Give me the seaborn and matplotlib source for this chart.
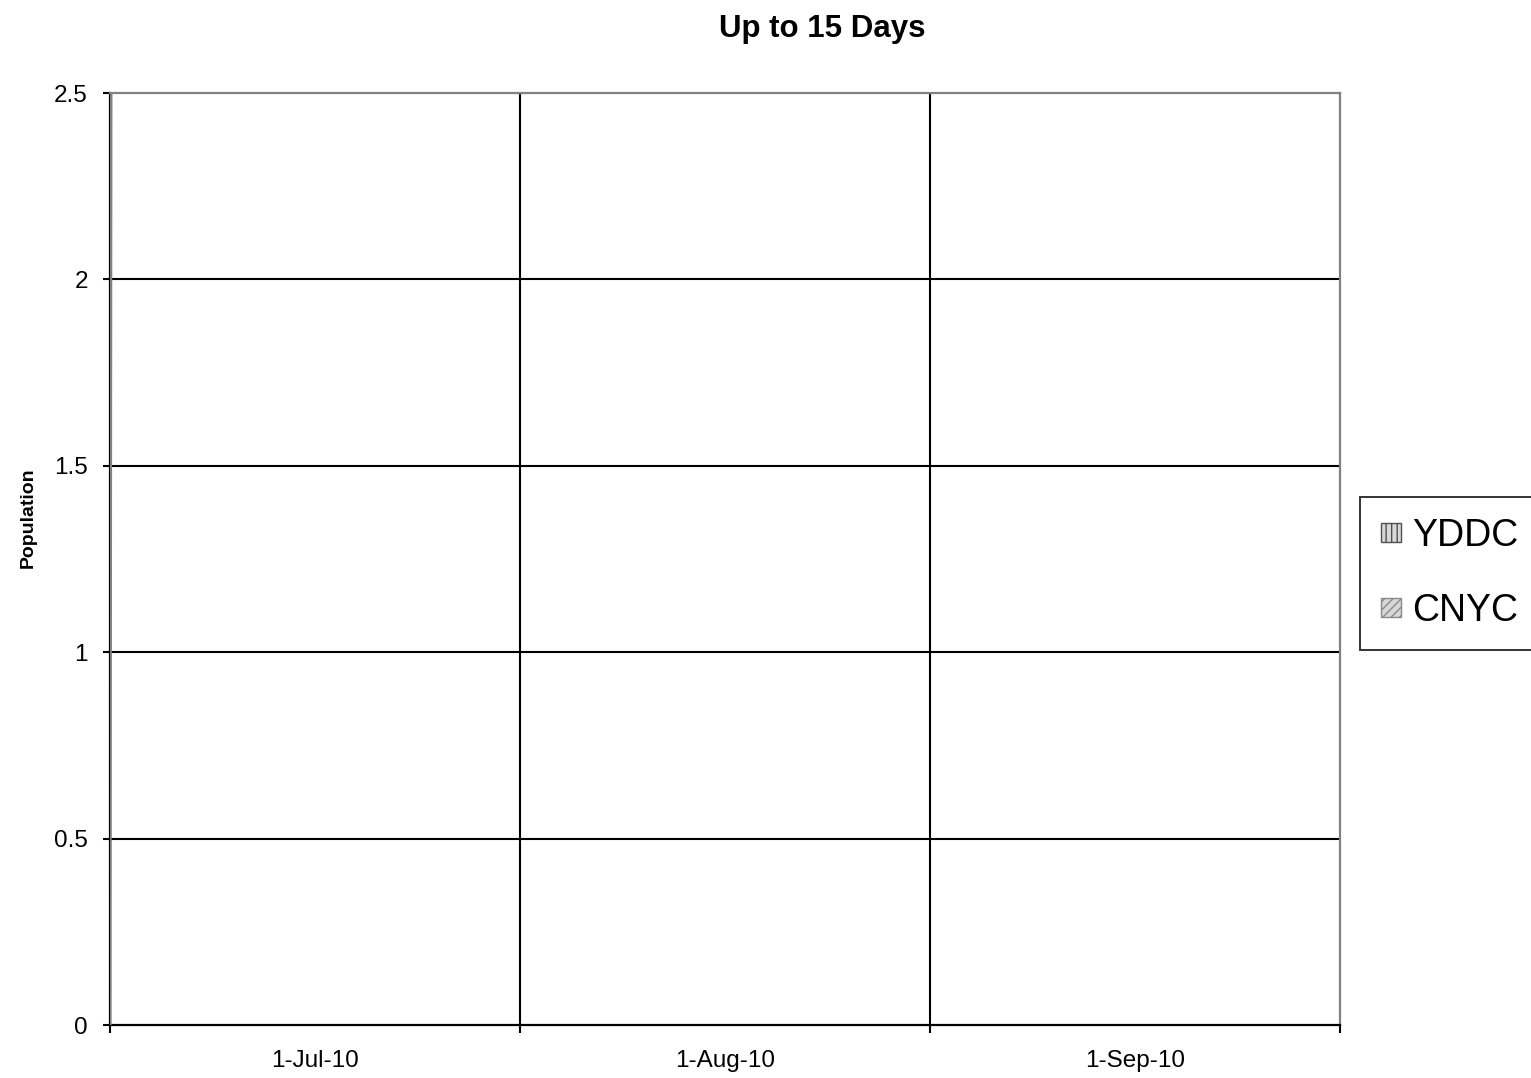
import pandas as pd
import numpy as np
import seaborn as sns
import matplotlib.pyplot as plt
from matplotlib.patches import Patch

# data
dates = pd.to_datetime(["2010-07-01", "2010-07-02"])
values = [0, 35]
series_names = ["YDDC", "CNYC"]
month_starts = pd.to_datetime(["2010-07-01", "2010-08-01", "2010-09-01", "2010-10-01"])
month_labels = ["1-Jul-10", "1-Aug-10", "1-Sep-10"]
y_ticks = [0, 0.5, 1, 1.5, 2, 2.5]
y_labels = ["0", "0.5", "1", "1.5", "2", "2.5"]

# the chart's date axis gives each month the same width
first = month_starts[0]
def month_pos(d):
    idx = (d.year - first.year) * 12 + (d.month - first.month)
    return idx + (d.day - 1) / d.days_in_month

data = pd.DataFrame({
    "x": [month_pos(d) for d in dates],
    "population": values,
})
edge_pos = [month_pos(d) for d in month_starts]
mid_pos = [(a + b) / 2 for a, b in zip(edge_pos[:-1], edge_pos[1:])]

sns.set_theme(style="white")
plt.rcParams["font.family"] = ["Liberation Sans", "DejaVu Sans"]
plt.rcParams["text.color"] = "black"
plt.rcParams["xtick.color"] = "black"
plt.rcParams["ytick.color"] = "black"

fig = plt.figure(figsize=(15.31, 10.78), dpi=100)
ax = fig.add_axes([110 / 1531, 1 - 1025 / 1078, 1230 / 1531, 932 / 1078])

sns.lineplot(x="x", y="population", data=data, ax=ax,
             color="#808080", linewidth=2.2, zorder=3)

ax.set_xlim(edge_pos[0], edge_pos[-1])
ax.set_ylim(0, 2.5)

# grid
for p in edge_pos[1:-1]:
    ax.axvline(p, color="black", linewidth=1.5, zorder=1)
for y in y_ticks[1:-1]:
    ax.axhline(y, color="black", linewidth=1.5, zorder=1)

ax.set_xticks(edge_pos)
ax.set_xticklabels([])
ax.set_xticks(mid_pos, minor=True)
ax.set_xticklabels(month_labels, minor=True)
ax.tick_params(axis="x", which="major", direction="out", length=6, width=1.5,
               color="black", bottom=True)
ax.tick_params(axis="x", which="minor", length=0, labelsize=17.5, pad=18,
               labelcolor="black")

ax.set_yticks(y_ticks)
ax.set_yticklabels(y_labels)
ax.tick_params(axis="y", direction="out", length=5, width=1.5, color="black",
               left=True, labelsize=17.5, pad=11, labelcolor="black")

for side in ["left", "bottom"]:
    ax.spines[side].set_color("black")
    ax.spines[side].set_linewidth(1.6)
for side in ["top", "right"]:
    ax.spines[side].set_color("#808080")
    ax.spines[side].set_linewidth(1.6)

ax.set_xlabel("")
ax.set_ylabel("")

fig.text(822 / 1531, 1 - 37 / 1078, "Up to 15 Days", ha="center", va="baseline",
         fontsize=22.5, fontweight="bold")
fig.text(28 / 1531, 1 - 518 / 1078, "Population", ha="center", va="center",
         rotation=90, fontsize=14, fontweight="bold")

handles = [
    Patch(facecolor="#d8d8d8", edgecolor="#505050", hatch="|||", label=series_names[0]),
    Patch(facecolor="#d8d8d8", edgecolor="#8a8a8a", hatch="////", label=series_names[1]),
]
leg = fig.legend(handles=handles, loc="upper left",
                 bbox_to_anchor=(1360 / 1531, 1 - 497 / 1078),
                 fontsize=27, frameon=True, fancybox=False,
                 handlelength=0.55, handleheight=0.42, handletextpad=0.28,
                 labelspacing=1.05, borderpad=0.55, borderaxespad=0)
leg.get_frame().set_edgecolor("black")
leg.get_frame().set_linewidth(1.4)

fig.savefig("out.png", dpi=100)
